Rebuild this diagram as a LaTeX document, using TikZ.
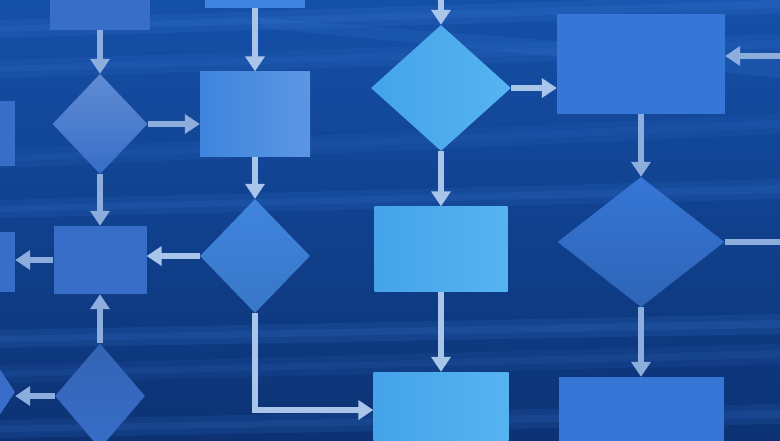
\documentclass[tikz,border=0pt]{standalone}
\usetikzlibrary{shapes.geometric,arrows.meta}
\begin{document}
\begin{tikzpicture}[x=1pt,y=-1pt,
    box/.style={rectangle,draw=none,inner sep=0pt},
    decision/.style={diamond,draw=none,inner sep=0pt},
    flowarrow/.style={line width=5.5pt,draw=arrowblue,-{Triangle[length=15pt,width=19pt]}},
    farflow/.style={flowarrow,draw=arrowdim}]
    % Define custom colors
    \definecolor{bgtop}{HTML}{1550A8}
    \definecolor{bgbottom}{HTML}{0C3274}
    \definecolor{streak}{HTML}{3A7AD6}
    \definecolor{nearcell}{HTML}{45A3EA}
    \definecolor{nearlight}{HTML}{55B4F0}
    \definecolor{midcell}{HTML}{3F84DE}
    \definecolor{farcell}{HTML}{386EC8}
    \definecolor{backcell}{HTML}{3676D6}
    \definecolor{arrowblue}{HTML}{A9C6EA}
    \definecolor{arrowdim}{HTML}{8DAEDC}

    \useasboundingbox (0,0) rectangle (780,440);

    % Background with soft streaks
    \shade[top color=bgtop,bottom color=bgbottom] (0,0) rectangle (780,440);
    \foreach \ya/\yb/\op in {20/0/0.18, 60/40/0.12, 150/120/0.1, 200/185/0.14, 330/320/0.16, 365/350/0.1, 420/410/0.14} {
        \fill[streak,opacity=\op] (0,\ya) -- (780,\yb-6) -- (780,\yb+14) -- (0,\ya+18) -- cycle;
        \fill[streak,opacity=\op] (0,\ya+6) -- (780,\yb) -- (780,\yb+8) -- (0,\ya+12) -- cycle;
    }
    \fill[streak,opacity=0.18] (260,18) -- (780,58) -- (780,78) -- (260,28) -- cycle;

    % Column 1 (blurred, far)
    \node[box,fill=farcell,minimum width=100pt,minimum height=52pt] (c1top) at (100,4) {};
    \node[decision,top color=farcell!80!white,bottom color=farcell,minimum width=95pt,minimum height=100pt] (c1dec) at (100,124) {};
    \node[box,fill=farcell,minimum width=93pt,minimum height=68pt] (c1box) at (100,260) {};
    \node[decision,top color=farcell!90!black,bottom color=farcell,minimum width=90pt,minimum height=105pt] (c1low) at (100,396) {};

    % Left edge (cut off)
    \node[box,fill=farcell,minimum width=36pt,minimum height=65pt] (left1) at (-3,133) {};
    \node[box,fill=farcell,minimum width=36pt,minimum height=60pt] (left2) at (-3,262) {};
    \node[decision,fill=farcell,minimum width=60pt,minimum height=90pt] (left3) at (-15,392) {};

    % Column 2
    \node[box,fill=midcell,minimum width=100pt,minimum height=40pt] (c2top) at (255,-12) {};
    \node[box,left color=midcell,right color=midcell!85!white,minimum width=110pt,minimum height=85pt] (c2box) at (255,114) {};
    \node[decision,top color=midcell,bottom color=midcell!90!black,minimum width=110pt,minimum height=114pt] (c2dec) at (255,256) {};

    % Column 3 (sharp, near)
    \coordinate (c3in) at (441,-12);
    \node[decision,left color=nearcell,right color=nearlight,minimum width=140pt,minimum height=126pt] (c3dec) at (441,88) {};
    \node[box,left color=nearcell,right color=nearlight,minimum width=133pt,minimum height=85pt] (c3box) at (441,249) {};
    \node[box,left color=nearcell,right color=nearlight,minimum width=135pt,minimum height=76pt] (c3end) at (441,410) {};

    % Column 4 (blurred, far)
    \coordinate (c4in) at (792,56);
    \coordinate (c4out) at (792,242);
    \node[box,fill=backcell,minimum width=168pt,minimum height=100pt] (c4box) at (641,64) {};
    \node[decision,top color=backcell,bottom color=backcell!85!black,minimum width=167pt,minimum height=130pt] (c4dec) at (641,242) {};
    \node[box,fill=backcell,minimum width=165pt,minimum height=84pt] (c4end) at (641,419) {};

    % Connectors
    \draw[farflow] (c1top) -- (c1dec);
    \draw[farflow] (c1dec) -- (c1box);
    \draw[farflow] (c1dec.east) -- (c1dec.east -| c2box.west);
    \draw[farflow] (c1box.west) -- (c1box.west -| left2.east);
    \draw[farflow] (c1low) -- (c1box);
    \draw[farflow] (c1low.west) -- (c1low.west -| left3.east);

    \draw[flowarrow] (c2top) -- (c2box);
    \draw[flowarrow] (c2box) -- (c2dec);
    \draw[flowarrow] (c2dec.west) -- (c2dec.west -| c1box.east);
    \draw[flowarrow] (c2dec.south) |- (c3end.west);

    \draw[flowarrow] (c3in) -- (c3dec);
    \draw[flowarrow] (c3dec) -- (c3box);
    \draw[flowarrow] (c3box) -- (c3end);
    \draw[flowarrow] (c3dec.east) -- (c3dec.east -| c4box.west);

    \draw[farflow] (c4in) -- (c4in -| c4box.east);
    \draw[farflow] (c4box) -- (c4dec);
    \draw[farflow] (c4dec) -- (c4end);
    \draw[farflow,-] (c4dec.east) -- (c4out);

\end{tikzpicture}
\end{document}
